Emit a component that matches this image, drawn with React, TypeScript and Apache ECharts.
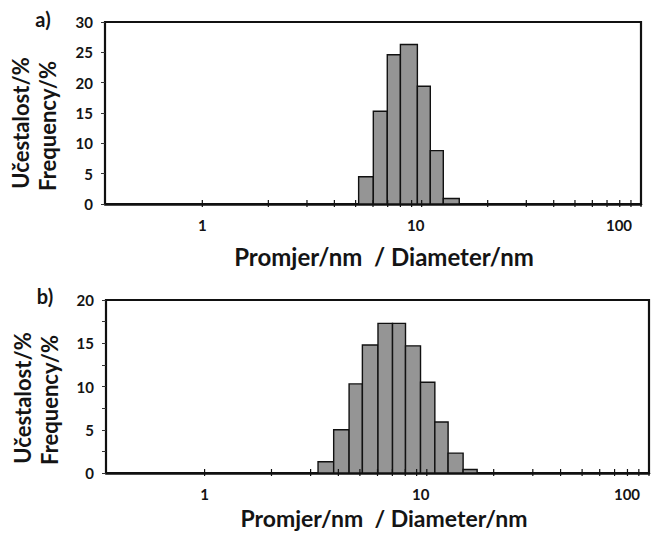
import React, { useEffect, useRef } from "react";
import * as echarts from "echarts";

// Histogram a): bin edges (nm) and frequencies (%)
const aEdges = [5.16, 6.02, 6.97, 8.0, 9.56, 10.95, 12.55, 14.84];
const aValues = [4.5, 15.3, 24.6, 26.3, 19.4, 8.8, 0.9];
// Histogram b)
const bEdges = [3.24, 3.81, 4.47, 5.13, 6.03, 7.01, 8.02, 9.37, 10.87, 12.47, 14.57, 16.85];
const bValues = [1.3, 5.0, 10.3, 14.8, 17.3, 17.3, 14.7, 10.5, 5.9, 2.3, 0.4];
// x-axis tick positions (log scale)
const xTickValues = [1, 2, 3, 4, 5, 6, 7, 8, 9, 10, 20, 30, 40, 50, 60, 70, 80, 90, 100];
const xLabelValues = [1, 10, 100];

const yTitle1 = "Učestalost/%";
const yTitle2 = "Frequency/%";
const xTitle = "Promjer/nm  / Diameter/nm";

const FONT = "Lato, 'Open Sans', sans-serif";
const INK = "#141414";

function bins(edges: number[], values: number[]) {
  return values.map((v, i) => [edges[i], edges[i + 1], v]);
}

const histRender = (params: any, api: any) => {
  const p0 = api.coord([api.value(0), api.value(2)]);
  const p1 = api.coord([api.value(1), 0]);
  return {
    type: "rect",
    shape: { x: p0[0], y: p0[1], width: p1[0] - p0[0], height: p1[1] - p0[1] },
    style: { fill: "#959595", stroke: "#111", lineWidth: 1.4 },
  };
};

const tickRender = (params: any, api: any) => {
  const p = api.coord([api.value(0), 0]);
  return {
    type: "line",
    shape: { x1: p[0], y1: p[1] - 4, x2: p[0], y2: p[1] + 3 },
    style: { stroke: "#111", lineWidth: 1.2 },
  };
};

function xAxisOpt(gridIndex: number) {
  return {
    type: "log",
    logBase: 10,
    gridIndex,
    min: 0.36,
    max: 100,
    axisLine: { show: true, lineStyle: { color: "#111", width: 2.5 } },
    axisTick: { show: false },
    splitLine: { show: false },
    axisLabel: {
      margin: 13,
      showMinLabel: false,
      fontFamily: FONT,
      fontWeight: "bold",
      fontSize: 15,
      color: INK,
      formatter: (v: number) => {
        const hit = xLabelValues.find((t) => Math.abs(t - v) / t < 1e-6);
        if (hit === undefined) return "";
        if (hit === 10) return "{m|10}";
        if (hit === 100) return "{r|100}";
        return String(hit);
      },
      rich: {
        m: { fontFamily: FONT, fontWeight: "bold", fontSize: 15, color: INK, padding: [0, 12, 0, 0] },
        r: { fontFamily: FONT, fontWeight: "bold", fontSize: 15, color: INK, padding: [0, 44, 0, 0] },
      },
    },
  };
}

function yAxisOpt(gridIndex: number, max: number, minor: boolean) {
  return {
    type: "value",
    gridIndex,
    min: 0,
    max,
    interval: 5,
    axisLine: { show: true, lineStyle: { color: "#111", width: 1.6 } },
    axisTick: { show: true, length: 4, lineStyle: { color: "#333", width: 1 } },
    minorTick: { show: minor, splitNumber: 2, length: 4, lineStyle: { color: "#333", width: 1 } },
    splitLine: { show: false },
    axisLabel: {
      margin: 12,
      fontFamily: FONT,
      fontWeight: "bold",
      fontSize: 15,
      color: INK,
    },
  };
}

function titleText(text: string, x: number, y: number, rotate: boolean, size: number) {
  return {
    type: "text",
    x,
    y,
    rotation: rotate ? Math.PI / 2 : 0,
    style: {
      text,
      fontFamily: FONT,
      fontWeight: "bold",
      fontSize: size,
      fill: INK,
      align: "center",
      verticalAlign: "middle",
    },
  };
}

export default function App() {
  const ref = useRef<HTMLDivElement>(null);
  useEffect(() => {
    if (!ref.current) return;
    const chart = echarts.init(ref.current, undefined, { renderer: "svg" });
    const ticks = xTickValues.map((v) => [v, 0]);
    chart.setOption({
      animation: false,
      backgroundColor: "#ffffff",
      grid: [
        { left: 105, top: 22, width: 536, height: 182, show: true, borderColor: "#111", borderWidth: 2.2, backgroundColor: "transparent" },
        { left: 106, top: 300, width: 543, height: 173, show: true, borderColor: "#111", borderWidth: 2.2, backgroundColor: "transparent" },
      ],
      xAxis: [xAxisOpt(0), xAxisOpt(1)],
      yAxis: [yAxisOpt(0, 30, false), yAxisOpt(1, 20, true)],
      series: [
        { type: "custom", xAxisIndex: 0, yAxisIndex: 0, renderItem: histRender, encode: { x: [0, 1], y: 2 }, data: bins(aEdges, aValues) },
        { type: "custom", xAxisIndex: 1, yAxisIndex: 1, renderItem: histRender, encode: { x: [0, 1], y: 2 }, data: bins(bEdges, bValues) },
        { type: "custom", xAxisIndex: 0, yAxisIndex: 0, renderItem: tickRender, encode: { x: 0, y: 1 }, data: ticks, clip: false, z: 5 },
        { type: "custom", xAxisIndex: 1, yAxisIndex: 1, renderItem: tickRender, encode: { x: 0, y: 1 }, data: ticks, clip: false, z: 5 },
      ],
      graphic: [
        titleText("a)", 43, 19, false, 20),
        titleText("b)", 45, 296, false, 20),
        titleText(yTitle1, 20, 123, true, 22),
        titleText(yTitle2, 47, 126, true, 22),
        titleText(yTitle1, 22, 398, true, 22),
        titleText(yTitle2, 49, 400, true, 22),
        titleText(xTitle, 384, 256, false, 24),
        titleText(xTitle, 384, 518, false, 23),
      ],
    });
    return () => chart.dispose();
  }, []);
  return (
    <div
      ref={ref}
      style={{ position: "fixed", left: 0, top: 0, width: 659, height: 533, background: "#fff" }}
    />
  );
}
